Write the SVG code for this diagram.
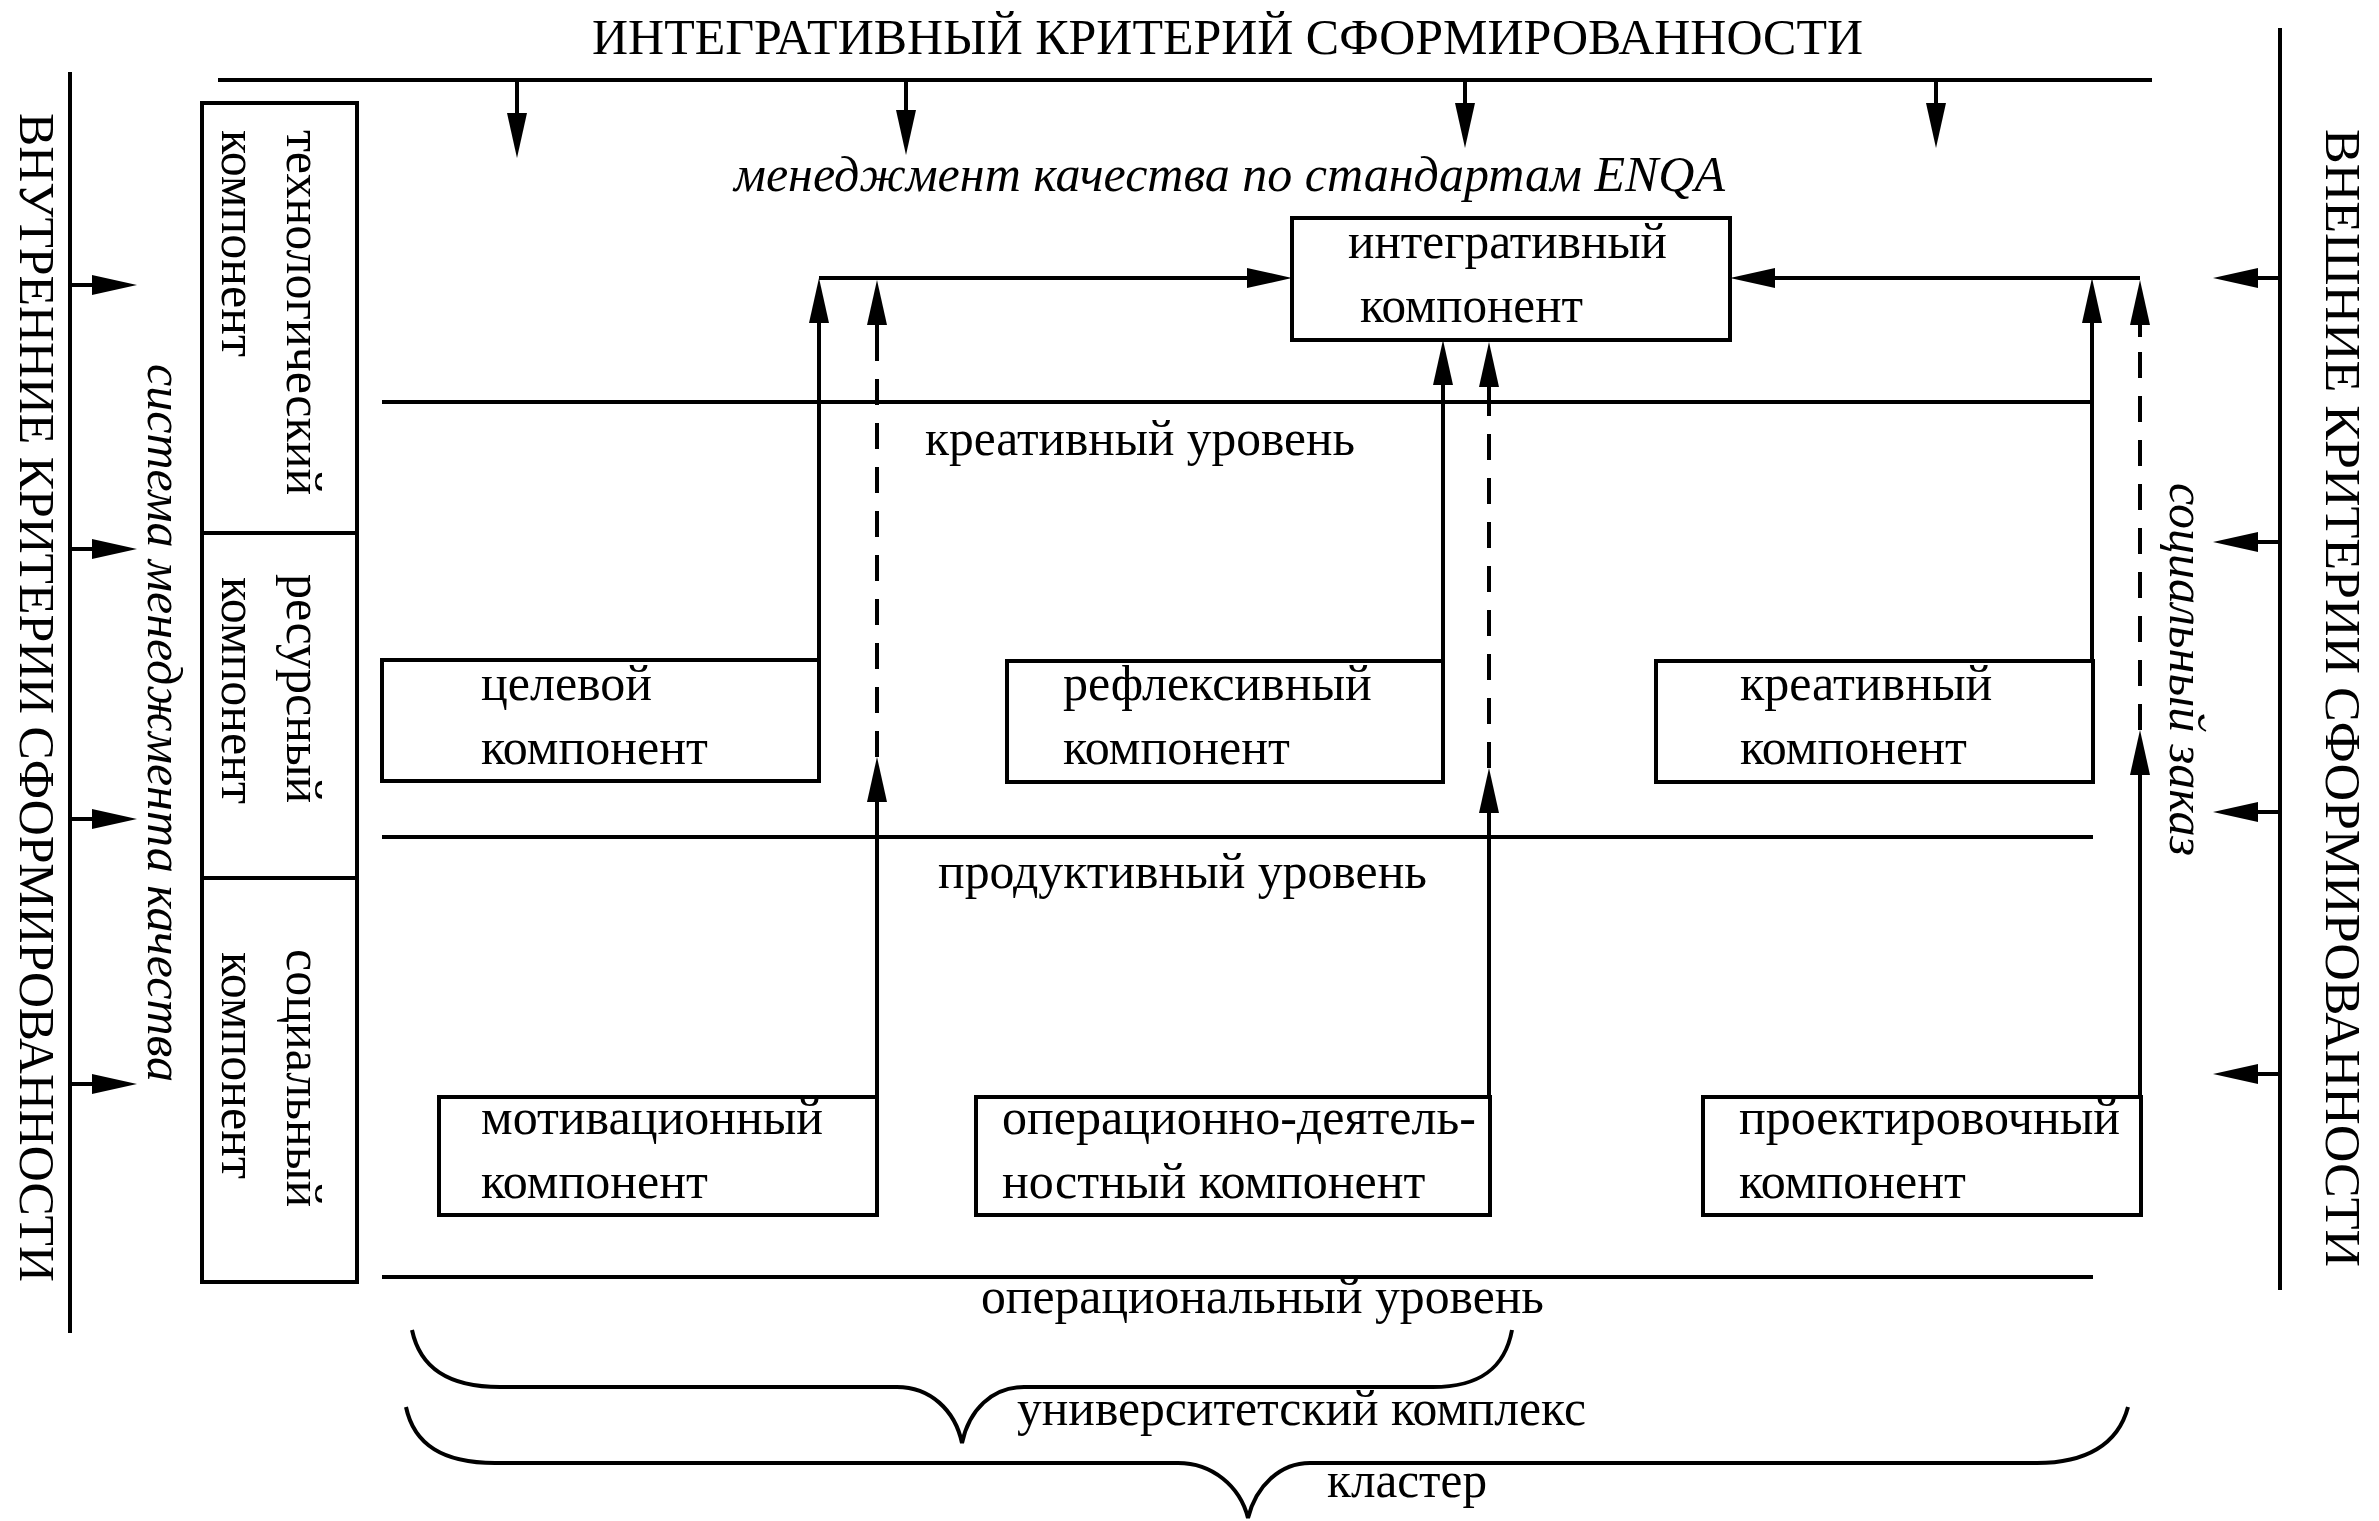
<svg xmlns="http://www.w3.org/2000/svg" width="2379" height="1521" viewBox="0 0 2379 1521">
<style>
  text { font-family: "Liberation Serif", "Times New Roman", serif; font-size: 50px; fill: #000; }
  .it { font-style: italic; }
  .ln { stroke: #000; stroke-width: 4; fill: none; }
  .box { stroke: #000; stroke-width: 4; fill: #fff; }
  .dash { stroke: #000; stroke-width: 4; fill: none; stroke-dasharray: 26 18; }
  .arr { stroke: #000; stroke-width: 4; fill: none; marker-end: url(#ah); }
  .brace { stroke: #000; stroke-width: 4; fill: none; stroke-linejoin: miter; }
</style>
<defs>
  <marker id="ah" markerUnits="userSpaceOnUse" markerWidth="50" markerHeight="24" viewBox="0 -12 50 24" refX="0" refY="0" orient="auto">
    <path d="M0,-10 L45,0 L0,10 Z" fill="#000"/>
  </marker>
</defs>
<rect width="2379" height="1521" fill="#fff"/>

<!-- titles and frame -->
<g id="top-criterion">
  <text x="592" y="54" textLength="1271" lengthAdjust="spacingAndGlyphs">ИНТЕГРАТИВНЫЙ КРИТЕРИЙ СФОРМИРОВАННОСТИ</text>
  <line class="ln" x1="218" y1="80" x2="2152" y2="80"/>
</g>
<g id="internal-criteria">
  <line class="ln" x1="70" y1="72" x2="70" y2="1333"/>
  <text transform="translate(20,113) rotate(90)" textLength="1169" lengthAdjust="spacingAndGlyphs">ВНУТРЕННИЕ КРИТЕРИИ СФОРМИРОВАННОСТИ</text>
  <text class="it" transform="translate(148,364) rotate(90)" textLength="718" lengthAdjust="spacingAndGlyphs">система менеджмента качества</text>
</g>
<g id="external-criteria">
  <line class="ln" x1="2280" y1="28" x2="2280" y2="1290"/>
  <text transform="translate(2326,129) rotate(90)" textLength="1138" lengthAdjust="spacingAndGlyphs">ВНЕШНИЕ КРИТЕРИИ СФОРМИРОВАННОСТИ</text>
  <text class="it" transform="translate(2170,483) rotate(90)" textLength="373" lengthAdjust="spacingAndGlyphs">социальный заказ</text>
</g>
<g id="enqa-label">
  <text class="it" x="734" y="191" textLength="991" lengthAdjust="spacingAndGlyphs">менеджмент качества по стандартам ENQA</text>
</g>

<!-- left component column -->
<g id="technological">
  <rect class="box" x="202" y="103" width="155" height="430"/>
  <text transform="translate(287,130) rotate(90)">технологический</text>
  <text transform="translate(222,130) rotate(90)">компонент</text>
</g>
<g id="resource">
  <rect class="box" x="202" y="533" width="155" height="345"/>
  <text transform="translate(287,574) rotate(90)">ресурсный</text>
  <text transform="translate(222,577) rotate(90)">компонент</text>
</g>
<g id="social">
  <rect class="box" x="202" y="878" width="155" height="404"/>
  <text transform="translate(287,949) rotate(90)">социальный</text>
  <text transform="translate(222,952) rotate(90)">компонент</text>
</g>

<!-- levels -->
<g id="creative-level">
  <line class="ln" x1="382" y1="402" x2="2093" y2="402"/>
  <text x="925" y="455" textLength="430" lengthAdjust="spacingAndGlyphs">креативный уровень</text>
</g>
<g id="productive-level">
  <line class="ln" x1="382" y1="837" x2="2093" y2="837"/>
  <text x="938" y="888" textLength="489" lengthAdjust="spacingAndGlyphs">продуктивный уровень</text>
</g>
<g id="operational-level">
  <line class="ln" x1="382" y1="1277" x2="2093" y2="1277"/>
  <text x="981" y="1313" textLength="563" lengthAdjust="spacingAndGlyphs">операциональный уровень</text>
</g>

<!-- component nodes -->
<g id="integrative">
  <rect class="box" x="1292" y="218" width="438" height="122"/>
  <text x="1348" y="258" textLength="319" lengthAdjust="spacingAndGlyphs">интегративный</text>
  <text x="1360" y="322" textLength="223" lengthAdjust="spacingAndGlyphs">компонент</text>
</g>
<g id="target">
  <rect class="box" x="382" y="660" width="437" height="121"/>
  <text x="481" y="700">целевой</text>
  <text x="481" y="764">компонент</text>
</g>
<g id="reflexive">
  <rect class="box" x="1007" y="661" width="436" height="121"/>
  <text x="1063" y="700">рефлексивный</text>
  <text x="1063" y="764">компонент</text>
</g>
<g id="creative">
  <rect class="box" x="1656" y="661" width="437" height="121"/>
  <text x="1740" y="700">креативный</text>
  <text x="1740" y="764">компонент</text>
</g>
<g id="motivational">
  <rect class="box" x="439" y="1097" width="438" height="118"/>
  <text x="481" y="1134">мотивационный</text>
  <text x="481" y="1198">компонент</text>
</g>
<g id="operational-activity">
  <rect class="box" x="976" y="1097" width="514" height="118"/>
  <text x="1002" y="1134">операционно-деятель-</text>
  <text x="1002" y="1198">ностный компонент</text>
</g>
<g id="design">
  <rect class="box" x="1703" y="1097" width="438" height="118"/>
  <text x="1739" y="1134">проектировочный</text>
  <text x="1739" y="1198">компонент</text>
</g>

<!-- braces -->
<g id="university-complex">
  <path class="brace" d="M412,1330 C420,1368 448,1387 500,1387 L897,1387 C930,1387 955,1410 962,1443 C969,1410 992,1387 1024,1387 L1433,1387 C1480,1387 1505,1368 1512,1330"/>
  <text x="1017" y="1425" textLength="569" lengthAdjust="spacingAndGlyphs">университетский комплекс</text>
</g>
<g id="cluster">
  <path class="brace" d="M406,1407 C414,1445 443,1463 495,1463 L1178,1463 C1212,1463 1240,1486 1248,1518 C1256,1486 1280,1463 1310,1463 L2037,1463 C2085,1463 2118,1445 2128,1407"/>
  <text x="1327" y="1497" textLength="160" lengthAdjust="spacingAndGlyphs">кластер</text>
</g>

<!-- connectors -->
<g id="connectors">
  <!-- from integrative criterion -->
  <line class="arr" x1="517" y1="80" x2="517" y2="113"/>
  <line class="arr" x1="906" y1="80" x2="906" y2="110"/>
  <line class="arr" x1="1465" y1="80" x2="1465" y2="103"/>
  <line class="arr" x1="1936" y1="80" x2="1936" y2="103"/>
  <!-- internal criteria arrows -->
  <line class="arr" x1="70" y1="285" x2="92" y2="285"/>
  <line class="arr" x1="70" y1="549" x2="92" y2="549"/>
  <line class="arr" x1="70" y1="819" x2="92" y2="819"/>
  <line class="arr" x1="70" y1="1084" x2="92" y2="1084"/>
  <!-- external criteria arrows -->
  <line class="arr" x1="2280" y1="278" x2="2258" y2="278"/>
  <line class="arr" x1="2280" y1="542" x2="2258" y2="542"/>
  <line class="arr" x1="2280" y1="812" x2="2258" y2="812"/>
  <line class="arr" x1="2280" y1="1074" x2="2258" y2="1074"/>
  <!-- left branch to integrative -->
  <line class="arr" x1="819" y1="660" x2="819" y2="323"/>
  <line class="arr" x1="819" y1="278" x2="1247" y2="278"/>
  <line class="dash" x1="877" y1="757" x2="877" y2="337"/>
  <line class="arr" x1="877" y1="337" x2="877" y2="325"/>
  <line class="arr" x1="877" y1="1097" x2="877" y2="802"/>
  <!-- middle branch -->
  <line class="arr" x1="1443" y1="661" x2="1443" y2="385"/>
  <line class="dash" x1="1489" y1="768" x2="1489" y2="400"/>
  <line class="arr" x1="1489" y1="400" x2="1489" y2="387"/>
  <line class="arr" x1="1489" y1="1097" x2="1489" y2="813"/>
  <!-- right branch -->
  <line class="arr" x1="2092" y1="661" x2="2092" y2="323"/>
  <line class="arr" x1="2140" y1="278" x2="1775" y2="278"/>
  <line class="dash" x1="2140" y1="730" x2="2140" y2="337"/>
  <line class="arr" x1="2140" y1="337" x2="2140" y2="325"/>
  <line class="arr" x1="2140" y1="1097" x2="2140" y2="775"/>
</g>
</svg>
